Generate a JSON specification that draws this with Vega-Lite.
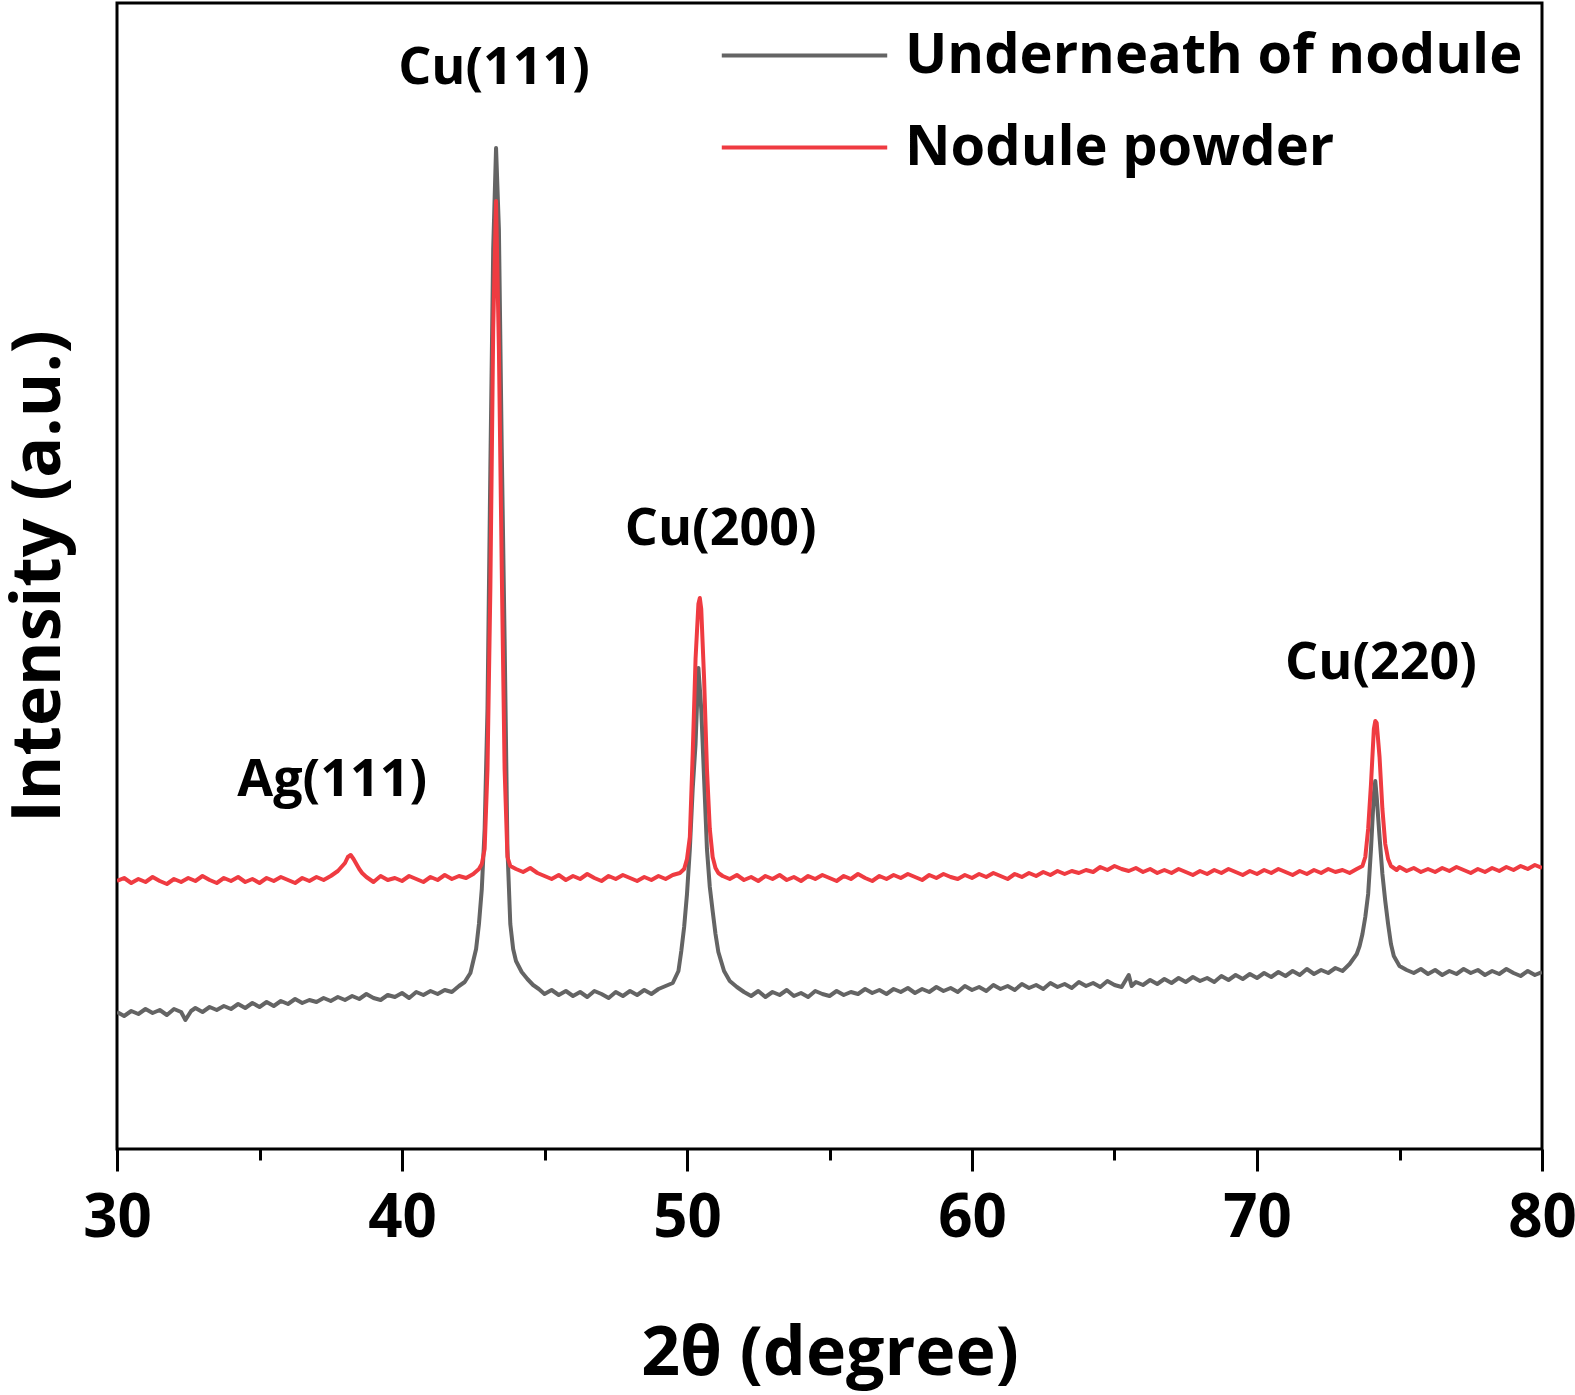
{
"$schema":"https://vega.github.io/schema/vega-lite/v6.json",
"autosize":"none",
"width":1425,"height":1146,
"padding":{"left":117,"top":3,"right":33,"bottom":246},
"background":"white",
"config":{"view":{"stroke":"black","strokeWidth":3},"font":"Open Sans"},
"datasets":{
"xrd":[
{"t":30.0,"i":137,"s":"Underneath of nodule"},{"t":30.25,"i":133,"s":"Underneath of nodule"},{"t":30.5,"i":138,"s":"Underneath of nodule"},{"t":30.75,"i":135,"s":"Underneath of nodule"},{"t":31.0,"i":140,"s":"Underneath of nodule"},{"t":31.25,"i":136,"s":"Underneath of nodule"},{"t":31.5,"i":139,"s":"Underneath of nodule"},{"t":31.75,"i":134,"s":"Underneath of nodule"},{"t":32.0,"i":140,"s":"Underneath of nodule"},{"t":32.25,"i":137,"s":"Underneath of nodule"},{"t":32.4,"i":129,"s":"Underneath of nodule"},{"t":32.6,"i":138,"s":"Underneath of nodule"},{"t":32.75,"i":141,"s":"Underneath of nodule"},{"t":33.0,"i":137,"s":"Underneath of nodule"},{"t":33.25,"i":142,"s":"Underneath of nodule"},{"t":33.5,"i":139,"s":"Underneath of nodule"},{"t":33.75,"i":143,"s":"Underneath of nodule"},{"t":34.0,"i":140,"s":"Underneath of nodule"},{"t":34.25,"i":145,"s":"Underneath of nodule"},{"t":34.5,"i":141,"s":"Underneath of nodule"},{"t":34.75,"i":146,"s":"Underneath of nodule"},{"t":35.0,"i":142,"s":"Underneath of nodule"},{"t":35.25,"i":147,"s":"Underneath of nodule"},{"t":35.5,"i":143,"s":"Underneath of nodule"},{"t":35.75,"i":148,"s":"Underneath of nodule"},{"t":36.0,"i":145,"s":"Underneath of nodule"},{"t":36.25,"i":150,"s":"Underneath of nodule"},{"t":36.5,"i":146,"s":"Underneath of nodule"},{"t":36.75,"i":149,"s":"Underneath of nodule"},{"t":37.0,"i":147,"s":"Underneath of nodule"},{"t":37.25,"i":151,"s":"Underneath of nodule"},{"t":37.5,"i":148,"s":"Underneath of nodule"},{"t":37.75,"i":152,"s":"Underneath of nodule"},{"t":38.0,"i":149,"s":"Underneath of nodule"},{"t":38.25,"i":153,"s":"Underneath of nodule"},{"t":38.5,"i":150,"s":"Underneath of nodule"},{"t":38.75,"i":155,"s":"Underneath of nodule"},{"t":39.0,"i":151,"s":"Underneath of nodule"},{"t":39.25,"i":149,"s":"Underneath of nodule"},{"t":39.5,"i":154,"s":"Underneath of nodule"},{"t":39.75,"i":152,"s":"Underneath of nodule"},{"t":40.0,"i":156,"s":"Underneath of nodule"},{"t":40.25,"i":151,"s":"Underneath of nodule"},{"t":40.5,"i":157,"s":"Underneath of nodule"},{"t":40.75,"i":154,"s":"Underneath of nodule"},{"t":41.0,"i":158,"s":"Underneath of nodule"},{"t":41.25,"i":155,"s":"Underneath of nodule"},{"t":41.5,"i":159,"s":"Underneath of nodule"},{"t":41.75,"i":157,"s":"Underneath of nodule"},{"t":42.0,"i":163,"s":"Underneath of nodule"},{"t":42.2,"i":167,"s":"Underneath of nodule"},{"t":42.4,"i":176,"s":"Underneath of nodule"},{"t":42.5,"i":188,"s":"Underneath of nodule"},{"t":42.6,"i":200,"s":"Underneath of nodule"},{"t":42.7,"i":225,"s":"Underneath of nodule"},{"t":42.8,"i":260,"s":"Underneath of nodule"},{"t":42.9,"i":320,"s":"Underneath of nodule"},{"t":43.0,"i":440,"s":"Underneath of nodule"},{"t":43.1,"i":680,"s":"Underneath of nodule"},{"t":43.2,"i":900,"s":"Underneath of nodule"},{"t":43.3,"i":1001,"s":"Underneath of nodule"},{"t":43.4,"i":920,"s":"Underneath of nodule"},{"t":43.5,"i":700,"s":"Underneath of nodule"},{"t":43.6,"i":510,"s":"Underneath of nodule"},{"t":43.7,"i":300,"s":"Underneath of nodule"},{"t":43.8,"i":225,"s":"Underneath of nodule"},{"t":43.9,"i":200,"s":"Underneath of nodule"},{"t":44.0,"i":188,"s":"Underneath of nodule"},{"t":44.2,"i":177,"s":"Underneath of nodule"},{"t":44.4,"i":170,"s":"Underneath of nodule"},{"t":44.6,"i":164,"s":"Underneath of nodule"},{"t":44.8,"i":160,"s":"Underneath of nodule"},{"t":45.0,"i":155,"s":"Underneath of nodule"},{"t":45.25,"i":159,"s":"Underneath of nodule"},{"t":45.5,"i":154,"s":"Underneath of nodule"},{"t":45.75,"i":158,"s":"Underneath of nodule"},{"t":46.0,"i":153,"s":"Underneath of nodule"},{"t":46.25,"i":157,"s":"Underneath of nodule"},{"t":46.5,"i":152,"s":"Underneath of nodule"},{"t":46.75,"i":158,"s":"Underneath of nodule"},{"t":47.0,"i":155,"s":"Underneath of nodule"},{"t":47.25,"i":151,"s":"Underneath of nodule"},{"t":47.5,"i":157,"s":"Underneath of nodule"},{"t":47.75,"i":153,"s":"Underneath of nodule"},{"t":48.0,"i":158,"s":"Underneath of nodule"},{"t":48.25,"i":154,"s":"Underneath of nodule"},{"t":48.5,"i":159,"s":"Underneath of nodule"},{"t":48.75,"i":155,"s":"Underneath of nodule"},{"t":49.0,"i":160,"s":"Underneath of nodule"},{"t":49.25,"i":163,"s":"Underneath of nodule"},{"t":49.5,"i":166,"s":"Underneath of nodule"},{"t":49.7,"i":178,"s":"Underneath of nodule"},{"t":49.8,"i":198,"s":"Underneath of nodule"},{"t":49.9,"i":222,"s":"Underneath of nodule"},{"t":50.0,"i":255,"s":"Underneath of nodule"},{"t":50.1,"i":300,"s":"Underneath of nodule"},{"t":50.2,"i":360,"s":"Underneath of nodule"},{"t":50.3,"i":405,"s":"Underneath of nodule"},{"t":50.4,"i":481,"s":"Underneath of nodule"},{"t":50.5,"i":440,"s":"Underneath of nodule"},{"t":50.6,"i":370,"s":"Underneath of nodule"},{"t":50.7,"i":300,"s":"Underneath of nodule"},{"t":50.8,"i":262,"s":"Underneath of nodule"},{"t":50.9,"i":238,"s":"Underneath of nodule"},{"t":51.0,"i":215,"s":"Underneath of nodule"},{"t":51.1,"i":197,"s":"Underneath of nodule"},{"t":51.3,"i":178,"s":"Underneath of nodule"},{"t":51.5,"i":168,"s":"Underneath of nodule"},{"t":51.75,"i":162,"s":"Underneath of nodule"},{"t":52.0,"i":157,"s":"Underneath of nodule"},{"t":52.25,"i":153,"s":"Underneath of nodule"},{"t":52.5,"i":158,"s":"Underneath of nodule"},{"t":52.75,"i":152,"s":"Underneath of nodule"},{"t":53.0,"i":157,"s":"Underneath of nodule"},{"t":53.25,"i":154,"s":"Underneath of nodule"},{"t":53.5,"i":159,"s":"Underneath of nodule"},{"t":53.75,"i":153,"s":"Underneath of nodule"},{"t":54.0,"i":156,"s":"Underneath of nodule"},{"t":54.25,"i":152,"s":"Underneath of nodule"},{"t":54.5,"i":158,"s":"Underneath of nodule"},{"t":54.75,"i":155,"s":"Underneath of nodule"},{"t":55.0,"i":153,"s":"Underneath of nodule"},{"t":55.25,"i":158,"s":"Underneath of nodule"},{"t":55.5,"i":154,"s":"Underneath of nodule"},{"t":55.75,"i":157,"s":"Underneath of nodule"},{"t":56.0,"i":155,"s":"Underneath of nodule"},{"t":56.25,"i":160,"s":"Underneath of nodule"},{"t":56.5,"i":156,"s":"Underneath of nodule"},{"t":56.75,"i":159,"s":"Underneath of nodule"},{"t":57.0,"i":155,"s":"Underneath of nodule"},{"t":57.25,"i":160,"s":"Underneath of nodule"},{"t":57.5,"i":157,"s":"Underneath of nodule"},{"t":57.75,"i":161,"s":"Underneath of nodule"},{"t":58.0,"i":156,"s":"Underneath of nodule"},{"t":58.25,"i":160,"s":"Underneath of nodule"},{"t":58.5,"i":157,"s":"Underneath of nodule"},{"t":58.75,"i":162,"s":"Underneath of nodule"},{"t":59.0,"i":158,"s":"Underneath of nodule"},{"t":59.25,"i":161,"s":"Underneath of nodule"},{"t":59.5,"i":157,"s":"Underneath of nodule"},{"t":59.75,"i":163,"s":"Underneath of nodule"},{"t":60.0,"i":159,"s":"Underneath of nodule"},{"t":60.25,"i":162,"s":"Underneath of nodule"},{"t":60.5,"i":158,"s":"Underneath of nodule"},{"t":60.75,"i":164,"s":"Underneath of nodule"},{"t":61.0,"i":160,"s":"Underneath of nodule"},{"t":61.25,"i":163,"s":"Underneath of nodule"},{"t":61.5,"i":159,"s":"Underneath of nodule"},{"t":61.75,"i":165,"s":"Underneath of nodule"},{"t":62.0,"i":161,"s":"Underneath of nodule"},{"t":62.25,"i":164,"s":"Underneath of nodule"},{"t":62.5,"i":160,"s":"Underneath of nodule"},{"t":62.75,"i":166,"s":"Underneath of nodule"},{"t":63.0,"i":162,"s":"Underneath of nodule"},{"t":63.25,"i":165,"s":"Underneath of nodule"},{"t":63.5,"i":161,"s":"Underneath of nodule"},{"t":63.75,"i":167,"s":"Underneath of nodule"},{"t":64.0,"i":163,"s":"Underneath of nodule"},{"t":64.25,"i":166,"s":"Underneath of nodule"},{"t":64.5,"i":162,"s":"Underneath of nodule"},{"t":64.75,"i":168,"s":"Underneath of nodule"},{"t":65.0,"i":164,"s":"Underneath of nodule"},{"t":65.25,"i":162,"s":"Underneath of nodule"},{"t":65.5,"i":174,"s":"Underneath of nodule"},{"t":65.6,"i":163,"s":"Underneath of nodule"},{"t":65.75,"i":167,"s":"Underneath of nodule"},{"t":66.0,"i":164,"s":"Underneath of nodule"},{"t":66.25,"i":169,"s":"Underneath of nodule"},{"t":66.5,"i":165,"s":"Underneath of nodule"},{"t":66.75,"i":170,"s":"Underneath of nodule"},{"t":67.0,"i":166,"s":"Underneath of nodule"},{"t":67.25,"i":171,"s":"Underneath of nodule"},{"t":67.5,"i":167,"s":"Underneath of nodule"},{"t":67.75,"i":172,"s":"Underneath of nodule"},{"t":68.0,"i":168,"s":"Underneath of nodule"},{"t":68.25,"i":171,"s":"Underneath of nodule"},{"t":68.5,"i":167,"s":"Underneath of nodule"},{"t":68.75,"i":173,"s":"Underneath of nodule"},{"t":69.0,"i":169,"s":"Underneath of nodule"},{"t":69.25,"i":174,"s":"Underneath of nodule"},{"t":69.5,"i":170,"s":"Underneath of nodule"},{"t":69.75,"i":175,"s":"Underneath of nodule"},{"t":70.0,"i":171,"s":"Underneath of nodule"},{"t":70.25,"i":176,"s":"Underneath of nodule"},{"t":70.5,"i":172,"s":"Underneath of nodule"},{"t":70.75,"i":177,"s":"Underneath of nodule"},{"t":71.0,"i":173,"s":"Underneath of nodule"},{"t":71.25,"i":178,"s":"Underneath of nodule"},{"t":71.5,"i":174,"s":"Underneath of nodule"},{"t":71.75,"i":180,"s":"Underneath of nodule"},{"t":72.0,"i":175,"s":"Underneath of nodule"},{"t":72.25,"i":179,"s":"Underneath of nodule"},{"t":72.5,"i":176,"s":"Underneath of nodule"},{"t":72.75,"i":181,"s":"Underneath of nodule"},{"t":73.0,"i":178,"s":"Underneath of nodule"},{"t":73.25,"i":185,"s":"Underneath of nodule"},{"t":73.5,"i":195,"s":"Underneath of nodule"},{"t":73.6,"i":203,"s":"Underneath of nodule"},{"t":73.7,"i":215,"s":"Underneath of nodule"},{"t":73.8,"i":232,"s":"Underneath of nodule"},{"t":73.9,"i":255,"s":"Underneath of nodule"},{"t":74.0,"i":300,"s":"Underneath of nodule"},{"t":74.1,"i":355,"s":"Underneath of nodule"},{"t":74.15,"i":368,"s":"Underneath of nodule"},{"t":74.2,"i":352,"s":"Underneath of nodule"},{"t":74.3,"i":312,"s":"Underneath of nodule"},{"t":74.4,"i":275,"s":"Underneath of nodule"},{"t":74.5,"i":248,"s":"Underneath of nodule"},{"t":74.6,"i":225,"s":"Underneath of nodule"},{"t":74.7,"i":205,"s":"Underneath of nodule"},{"t":74.8,"i":193,"s":"Underneath of nodule"},{"t":75.0,"i":183,"s":"Underneath of nodule"},{"t":75.25,"i":179,"s":"Underneath of nodule"},{"t":75.5,"i":176,"s":"Underneath of nodule"},{"t":75.75,"i":180,"s":"Underneath of nodule"},{"t":76.0,"i":175,"s":"Underneath of nodule"},{"t":76.25,"i":179,"s":"Underneath of nodule"},{"t":76.5,"i":174,"s":"Underneath of nodule"},{"t":76.75,"i":178,"s":"Underneath of nodule"},{"t":77.0,"i":175,"s":"Underneath of nodule"},{"t":77.25,"i":180,"s":"Underneath of nodule"},{"t":77.5,"i":176,"s":"Underneath of nodule"},{"t":77.75,"i":179,"s":"Underneath of nodule"},{"t":78.0,"i":174,"s":"Underneath of nodule"},{"t":78.25,"i":178,"s":"Underneath of nodule"},{"t":78.5,"i":175,"s":"Underneath of nodule"},{"t":78.75,"i":180,"s":"Underneath of nodule"},{"t":79.0,"i":176,"s":"Underneath of nodule"},{"t":79.25,"i":173,"s":"Underneath of nodule"},{"t":79.5,"i":178,"s":"Underneath of nodule"},{"t":79.75,"i":174,"s":"Underneath of nodule"},{"t":80.0,"i":177,"s":"Underneath of nodule"},
{"t":30.0,"i":268,"s":"Nodule powder"},{"t":30.25,"i":271,"s":"Nodule powder"},{"t":30.5,"i":266,"s":"Nodule powder"},{"t":30.75,"i":270,"s":"Nodule powder"},{"t":31.0,"i":267,"s":"Nodule powder"},{"t":31.25,"i":272,"s":"Nodule powder"},{"t":31.5,"i":268,"s":"Nodule powder"},{"t":31.75,"i":265,"s":"Nodule powder"},{"t":32.0,"i":270,"s":"Nodule powder"},{"t":32.25,"i":267,"s":"Nodule powder"},{"t":32.5,"i":271,"s":"Nodule powder"},{"t":32.75,"i":268,"s":"Nodule powder"},{"t":33.0,"i":273,"s":"Nodule powder"},{"t":33.25,"i":269,"s":"Nodule powder"},{"t":33.5,"i":266,"s":"Nodule powder"},{"t":33.75,"i":271,"s":"Nodule powder"},{"t":34.0,"i":268,"s":"Nodule powder"},{"t":34.25,"i":272,"s":"Nodule powder"},{"t":34.5,"i":267,"s":"Nodule powder"},{"t":34.75,"i":270,"s":"Nodule powder"},{"t":35.0,"i":266,"s":"Nodule powder"},{"t":35.25,"i":271,"s":"Nodule powder"},{"t":35.5,"i":268,"s":"Nodule powder"},{"t":35.75,"i":272,"s":"Nodule powder"},{"t":36.0,"i":269,"s":"Nodule powder"},{"t":36.25,"i":266,"s":"Nodule powder"},{"t":36.5,"i":271,"s":"Nodule powder"},{"t":36.75,"i":268,"s":"Nodule powder"},{"t":37.0,"i":272,"s":"Nodule powder"},{"t":37.25,"i":269,"s":"Nodule powder"},{"t":37.5,"i":273,"s":"Nodule powder"},{"t":37.75,"i":278,"s":"Nodule powder"},{"t":38.0,"i":286,"s":"Nodule powder"},{"t":38.1,"i":292,"s":"Nodule powder"},{"t":38.2,"i":294,"s":"Nodule powder"},{"t":38.3,"i":290,"s":"Nodule powder"},{"t":38.4,"i":285,"s":"Nodule powder"},{"t":38.5,"i":280,"s":"Nodule powder"},{"t":38.6,"i":276,"s":"Nodule powder"},{"t":38.75,"i":272,"s":"Nodule powder"},{"t":39.0,"i":267,"s":"Nodule powder"},{"t":39.25,"i":273,"s":"Nodule powder"},{"t":39.5,"i":269,"s":"Nodule powder"},{"t":39.75,"i":271,"s":"Nodule powder"},{"t":40.0,"i":268,"s":"Nodule powder"},{"t":40.25,"i":273,"s":"Nodule powder"},{"t":40.5,"i":270,"s":"Nodule powder"},{"t":40.75,"i":267,"s":"Nodule powder"},{"t":41.0,"i":272,"s":"Nodule powder"},{"t":41.25,"i":269,"s":"Nodule powder"},{"t":41.5,"i":274,"s":"Nodule powder"},{"t":41.75,"i":270,"s":"Nodule powder"},{"t":42.0,"i":273,"s":"Nodule powder"},{"t":42.25,"i":271,"s":"Nodule powder"},{"t":42.5,"i":275,"s":"Nodule powder"},{"t":42.7,"i":280,"s":"Nodule powder"},{"t":42.8,"i":285,"s":"Nodule powder"},{"t":42.9,"i":300,"s":"Nodule powder"},{"t":43.0,"i":380,"s":"Nodule powder"},{"t":43.1,"i":560,"s":"Nodule powder"},{"t":43.2,"i":820,"s":"Nodule powder"},{"t":43.3,"i":948,"s":"Nodule powder"},{"t":43.4,"i":800,"s":"Nodule powder"},{"t":43.5,"i":580,"s":"Nodule powder"},{"t":43.6,"i":380,"s":"Nodule powder"},{"t":43.7,"i":292,"s":"Nodule powder"},{"t":43.8,"i":283,"s":"Nodule powder"},{"t":44.0,"i":280,"s":"Nodule powder"},{"t":44.25,"i":277,"s":"Nodule powder"},{"t":44.5,"i":281,"s":"Nodule powder"},{"t":44.75,"i":276,"s":"Nodule powder"},{"t":45.0,"i":273,"s":"Nodule powder"},{"t":45.25,"i":270,"s":"Nodule powder"},{"t":45.5,"i":274,"s":"Nodule powder"},{"t":45.75,"i":269,"s":"Nodule powder"},{"t":46.0,"i":273,"s":"Nodule powder"},{"t":46.25,"i":270,"s":"Nodule powder"},{"t":46.5,"i":275,"s":"Nodule powder"},{"t":46.75,"i":271,"s":"Nodule powder"},{"t":47.0,"i":268,"s":"Nodule powder"},{"t":47.25,"i":273,"s":"Nodule powder"},{"t":47.5,"i":270,"s":"Nodule powder"},{"t":47.75,"i":274,"s":"Nodule powder"},{"t":48.0,"i":271,"s":"Nodule powder"},{"t":48.25,"i":268,"s":"Nodule powder"},{"t":48.5,"i":272,"s":"Nodule powder"},{"t":48.75,"i":269,"s":"Nodule powder"},{"t":49.0,"i":273,"s":"Nodule powder"},{"t":49.25,"i":270,"s":"Nodule powder"},{"t":49.5,"i":274,"s":"Nodule powder"},{"t":49.75,"i":276,"s":"Nodule powder"},{"t":49.9,"i":280,"s":"Nodule powder"},{"t":50.0,"i":290,"s":"Nodule powder"},{"t":50.1,"i":312,"s":"Nodule powder"},{"t":50.2,"i":395,"s":"Nodule powder"},{"t":50.3,"i":490,"s":"Nodule powder"},{"t":50.4,"i":545,"s":"Nodule powder"},{"t":50.45,"i":551,"s":"Nodule powder"},{"t":50.5,"i":540,"s":"Nodule powder"},{"t":50.6,"i":470,"s":"Nodule powder"},{"t":50.7,"i":380,"s":"Nodule powder"},{"t":50.8,"i":320,"s":"Nodule powder"},{"t":50.9,"i":292,"s":"Nodule powder"},{"t":51.0,"i":281,"s":"Nodule powder"},{"t":51.1,"i":276,"s":"Nodule powder"},{"t":51.25,"i":273,"s":"Nodule powder"},{"t":51.5,"i":270,"s":"Nodule powder"},{"t":51.75,"i":274,"s":"Nodule powder"},{"t":52.0,"i":269,"s":"Nodule powder"},{"t":52.25,"i":272,"s":"Nodule powder"},{"t":52.5,"i":268,"s":"Nodule powder"},{"t":52.75,"i":273,"s":"Nodule powder"},{"t":53.0,"i":270,"s":"Nodule powder"},{"t":53.25,"i":274,"s":"Nodule powder"},{"t":53.5,"i":269,"s":"Nodule powder"},{"t":53.75,"i":272,"s":"Nodule powder"},{"t":54.0,"i":268,"s":"Nodule powder"},{"t":54.25,"i":273,"s":"Nodule powder"},{"t":54.5,"i":270,"s":"Nodule powder"},{"t":54.75,"i":274,"s":"Nodule powder"},{"t":55.0,"i":271,"s":"Nodule powder"},{"t":55.25,"i":268,"s":"Nodule powder"},{"t":55.5,"i":273,"s":"Nodule powder"},{"t":55.75,"i":270,"s":"Nodule powder"},{"t":56.0,"i":275,"s":"Nodule powder"},{"t":56.25,"i":271,"s":"Nodule powder"},{"t":56.5,"i":268,"s":"Nodule powder"},{"t":56.75,"i":273,"s":"Nodule powder"},{"t":57.0,"i":270,"s":"Nodule powder"},{"t":57.25,"i":274,"s":"Nodule powder"},{"t":57.5,"i":271,"s":"Nodule powder"},{"t":57.75,"i":275,"s":"Nodule powder"},{"t":58.0,"i":272,"s":"Nodule powder"},{"t":58.25,"i":269,"s":"Nodule powder"},{"t":58.5,"i":274,"s":"Nodule powder"},{"t":58.75,"i":271,"s":"Nodule powder"},{"t":59.0,"i":275,"s":"Nodule powder"},{"t":59.25,"i":272,"s":"Nodule powder"},{"t":59.5,"i":270,"s":"Nodule powder"},{"t":59.75,"i":274,"s":"Nodule powder"},{"t":60.0,"i":271,"s":"Nodule powder"},{"t":60.25,"i":275,"s":"Nodule powder"},{"t":60.5,"i":272,"s":"Nodule powder"},{"t":60.75,"i":276,"s":"Nodule powder"},{"t":61.0,"i":273,"s":"Nodule powder"},{"t":61.25,"i":270,"s":"Nodule powder"},{"t":61.5,"i":275,"s":"Nodule powder"},{"t":61.75,"i":272,"s":"Nodule powder"},{"t":62.0,"i":276,"s":"Nodule powder"},{"t":62.25,"i":273,"s":"Nodule powder"},{"t":62.5,"i":277,"s":"Nodule powder"},{"t":62.75,"i":274,"s":"Nodule powder"},{"t":63.0,"i":278,"s":"Nodule powder"},{"t":63.25,"i":275,"s":"Nodule powder"},{"t":63.5,"i":278,"s":"Nodule powder"},{"t":63.75,"i":276,"s":"Nodule powder"},{"t":64.0,"i":279,"s":"Nodule powder"},{"t":64.25,"i":277,"s":"Nodule powder"},{"t":64.5,"i":282,"s":"Nodule powder"},{"t":64.75,"i":279,"s":"Nodule powder"},{"t":65.0,"i":283,"s":"Nodule powder"},{"t":65.25,"i":280,"s":"Nodule powder"},{"t":65.5,"i":278,"s":"Nodule powder"},{"t":65.75,"i":281,"s":"Nodule powder"},{"t":66.0,"i":277,"s":"Nodule powder"},{"t":66.25,"i":280,"s":"Nodule powder"},{"t":66.5,"i":276,"s":"Nodule powder"},{"t":66.75,"i":279,"s":"Nodule powder"},{"t":67.0,"i":276,"s":"Nodule powder"},{"t":67.25,"i":280,"s":"Nodule powder"},{"t":67.5,"i":277,"s":"Nodule powder"},{"t":67.75,"i":274,"s":"Nodule powder"},{"t":68.0,"i":278,"s":"Nodule powder"},{"t":68.25,"i":275,"s":"Nodule powder"},{"t":68.5,"i":279,"s":"Nodule powder"},{"t":68.75,"i":276,"s":"Nodule powder"},{"t":69.0,"i":280,"s":"Nodule powder"},{"t":69.25,"i":277,"s":"Nodule powder"},{"t":69.5,"i":274,"s":"Nodule powder"},{"t":69.75,"i":278,"s":"Nodule powder"},{"t":70.0,"i":275,"s":"Nodule powder"},{"t":70.25,"i":279,"s":"Nodule powder"},{"t":70.5,"i":276,"s":"Nodule powder"},{"t":70.75,"i":280,"s":"Nodule powder"},{"t":71.0,"i":277,"s":"Nodule powder"},{"t":71.25,"i":274,"s":"Nodule powder"},{"t":71.5,"i":278,"s":"Nodule powder"},{"t":71.75,"i":275,"s":"Nodule powder"},{"t":72.0,"i":279,"s":"Nodule powder"},{"t":72.25,"i":276,"s":"Nodule powder"},{"t":72.5,"i":280,"s":"Nodule powder"},{"t":72.75,"i":277,"s":"Nodule powder"},{"t":73.0,"i":279,"s":"Nodule powder"},{"t":73.25,"i":276,"s":"Nodule powder"},{"t":73.5,"i":280,"s":"Nodule powder"},{"t":73.7,"i":283,"s":"Nodule powder"},{"t":73.8,"i":292,"s":"Nodule powder"},{"t":73.9,"i":320,"s":"Nodule powder"},{"t":74.0,"i":365,"s":"Nodule powder"},{"t":74.1,"i":420,"s":"Nodule powder"},{"t":74.15,"i":428,"s":"Nodule powder"},{"t":74.2,"i":426,"s":"Nodule powder"},{"t":74.3,"i":392,"s":"Nodule powder"},{"t":74.4,"i":340,"s":"Nodule powder"},{"t":74.5,"i":305,"s":"Nodule powder"},{"t":74.6,"i":290,"s":"Nodule powder"},{"t":74.7,"i":283,"s":"Nodule powder"},{"t":74.9,"i":279,"s":"Nodule powder"},{"t":75.0,"i":282,"s":"Nodule powder"},{"t":75.25,"i":278,"s":"Nodule powder"},{"t":75.5,"i":281,"s":"Nodule powder"},{"t":75.75,"i":277,"s":"Nodule powder"},{"t":76.0,"i":280,"s":"Nodule powder"},{"t":76.25,"i":277,"s":"Nodule powder"},{"t":76.5,"i":281,"s":"Nodule powder"},{"t":76.75,"i":278,"s":"Nodule powder"},{"t":77.0,"i":282,"s":"Nodule powder"},{"t":77.25,"i":279,"s":"Nodule powder"},{"t":77.5,"i":276,"s":"Nodule powder"},{"t":77.75,"i":280,"s":"Nodule powder"},{"t":78.0,"i":277,"s":"Nodule powder"},{"t":78.25,"i":281,"s":"Nodule powder"},{"t":78.5,"i":278,"s":"Nodule powder"},{"t":78.75,"i":282,"s":"Nodule powder"},{"t":79.0,"i":279,"s":"Nodule powder"},{"t":79.25,"i":283,"s":"Nodule powder"},{"t":79.5,"i":280,"s":"Nodule powder"},{"t":79.75,"i":284,"s":"Nodule powder"},{"t":80.0,"i":281,"s":"Nodule powder"}
],
"peaks":[
{"t":43.23,"i":1081,"label":"Cu(111)"},
{"t":51.18,"i":620,"label":"Cu(200)"},
{"t":74.35,"i":486,"label":"Cu(220)"},
{"t":37.55,"i":369,"label":"Ag(111)"}
]
},
"layer":[
{"data":{"name":"xrd"},
 "mark":{"type":"line","strokeWidth":4,"strokeJoin":"round","clip":true},
 "encoding":{
  "x":{"field":"t","type":"quantitative","scale":{"domain":[30,80],"nice":false,"zero":false},
   "axis":{"values":[30,35,40,45,50,55,60,65,70,75,80],"domain":false,"grid":false,
    "tickColor":"black","tickWidth":3,
    "tickSize":{"condition":{"test":"datum.value % 10 === 0","value":22},"value":11},
    "labelExpr":"datum.value % 10 === 0 ? datum.label : ''",
    "labelFont":"Open Sans","labelFontSize":60,"labelFontWeight":"bold","labelColor":"black","labelPadding":18,"labelFlush":false,"labelOverlap":false,
    "title":"2θ (degree)","titleFont":"Open Sans","titleFontSize":68,"titleFontWeight":"bold","titleColor":"black","titlePadding":72}},
  "y":{"field":"i","type":"quantitative","scale":{"domain":[0,1146],"nice":false,"zero":false},
   "axis":{"labels":false,"ticks":false,"domain":false,"grid":false,
    "title":"Intensity (a.u.)","titleFont":"Open Sans","titleFontSize":68,"titleFontWeight":"bold","titleColor":"black","titlePadding":44}},
  "color":{"field":"s","type":"nominal","scale":{"domain":["Underneath of nodule","Nodule powder"],"range":["#646464","#EF3B41"]},
   "legend":{"title":null,"orient":"none","legendX":624,"legendY":-11,"symbolType":"M-1.345,0H1.345","symbolSize":15129,"symbolStrokeWidth":4,"symbolFillColor":"transparent",
    "labelFont":"Open Sans","labelFontSize":56,"labelFontWeight":"bold","labelColor":"black","labelOffset":37,"rowPadding":0,"padding":0,"labelLimit":0}}
 }},
{"data":{"name":"peaks"},
 "mark":{"type":"text","font":"Open Sans","fontSize":52,"fontWeight":"bold","color":"black","align":"center","baseline":"middle"},
 "encoding":{
  "x":{"field":"t","type":"quantitative"},
  "y":{"field":"i","type":"quantitative"},
  "text":{"field":"label","type":"nominal"}
 }}
]
}
